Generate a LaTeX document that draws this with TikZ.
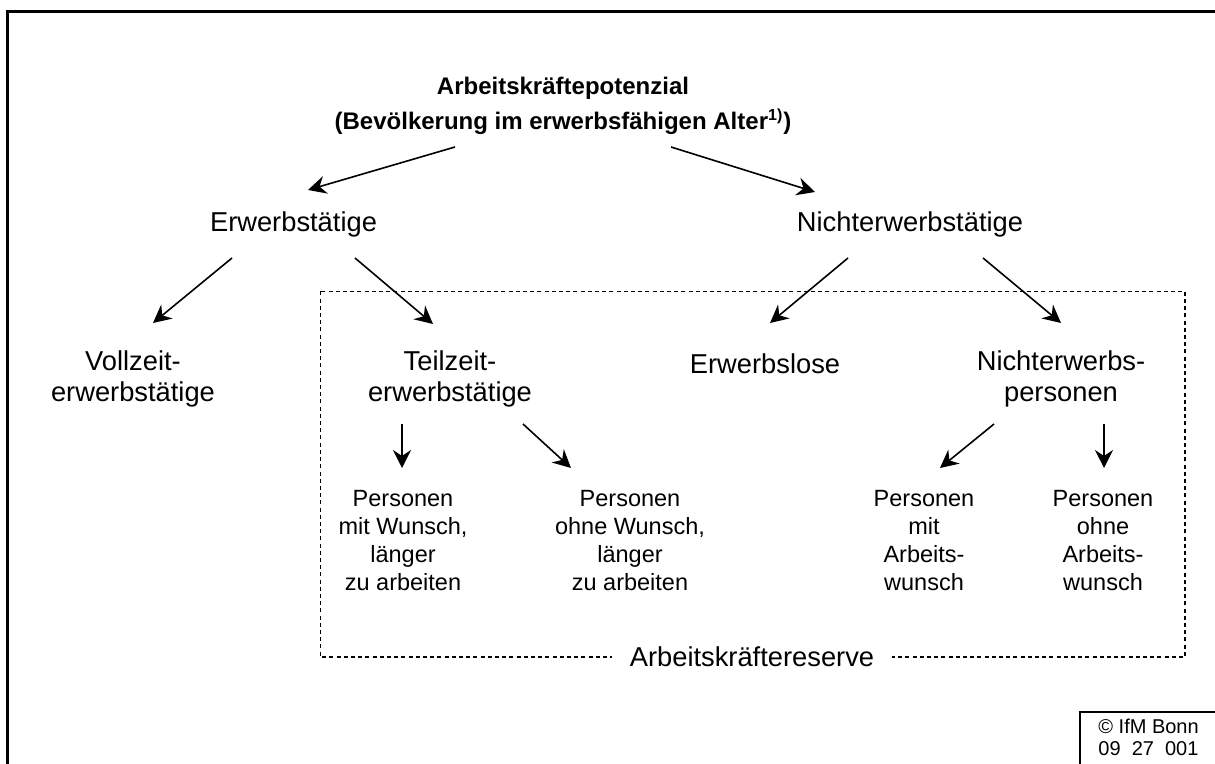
\documentclass[tikz,border=0pt]{standalone}
\usepackage{fontspec}
\setmainfont{Liberation Sans}
\usepackage{tikz}
\usetikzlibrary{arrows.meta}
\usetikzlibrary{calc}

\begin{document}
\begin{tikzpicture}[x=0.5pt,y=-0.5pt,>={Stealth[length=9pt,width=9pt,inset=3pt]},
  main/.style={align=center,inner sep=0pt,font=\fontsize{13.65}{15.5}\selectfont},
  small/.style={align=center,inner sep=0pt,font=\fontsize{11.75}{14}\selectfont},
  arr/.style={->,line width=0.8pt}]
\useasboundingbox (0,0) rectangle (1215,764);

%frame
\draw[line width=1.5pt] (7.5,11.5) rectangle (1240,800);
\draw[line width=0.6pt] (1080,712) rectangle (1240,800);
\node[anchor=north west,inner sep=0pt,align=left,font=\fontsize{10}{11}\selectfont] (ifm) at (1098,719) {© IfM Bonn\\09\ \ 27\ \ 001};

%reserve
\draw[dashed,dash pattern=on 2pt off 1.6pt,line width=0.6pt] (320.5,291.5) rectangle (1185,657);
\node[main,fill=white,inner xsep=9pt,inner ysep=2pt] (reserve) at (752,657) {Arbeitskräftereserve};

%levels
\node[align=center,inner sep=0pt,font=\bfseries\fontsize{12}{17.5}\selectfont] (title) at (563,106)
  {Arbeitskräftepotenzial\\(Bevölkerung im erwerbsfähigen Alter\textsuperscript{1)})};

\node[main] (erw) at (293.5,224) {Erwerbstätige};
\node[main] (nerw) at (910,224) {Nichterwerbstätige};

\node[main] (voll) at (133,379) {Vollzeit-\\erwerbstätige};
\node[main] (teil) at (450,379) {Teilzeit-\\erwerbstätige};
\node[main] (erwl) at (765,364) {Erwerbslose};
\node[main] (nep) at (1061,379) {Nichterwerbs-\\personen};

\node[small] (pmw) at (403,541) {Personen\\mit Wunsch,\\länger\\zu arbeiten};
\node[small] (pow) at (630,541) {Personen\\ohne Wunsch,\\länger\\zu arbeiten};
\node[small] (pma) at (924,541) {Personen\\mit\\Arbeits-\\wunsch};
\node[small] (poa) at (1103,541) {Personen\\ohne\\Arbeits-\\wunsch};

%arrows
\draw[arr] ($(title)+(-108,41)$) -- ($(erw)+(14.5,-34)$);
\draw[arr] ($(title)+(108,41)$) -- ($(nerw)+(-95,-32)$);

\draw[arr] ($(erw)+(-61.5,34)$) -- ($(voll)+(20,-56)$);
\draw[arr] ($(erw)+(61.5,34)$) -- ($(teil)+(-17,-55)$);
\draw[arr] ($(nerw)+(-62,34)$) -- ($(erwl)+(5,-41)$);
\draw[arr] ($(nerw)+(73,34)$) -- ($(nep)+(0,-56)$);

\draw[arr] ($(teil)+(-48,45)$) -- ($(pmw)+(-1,-73)$);
\draw[arr] ($(teil)+(73,45)$) -- ($(pow)+(-59,-73)$);
\draw[arr] ($(nep)+(-67,45)$) -- ($(pma)+(16,-73)$);
\draw[arr] ($(nep)+(43,45)$) -- ($(poa)+(1,-73)$);

\end{tikzpicture}
\end{document}
